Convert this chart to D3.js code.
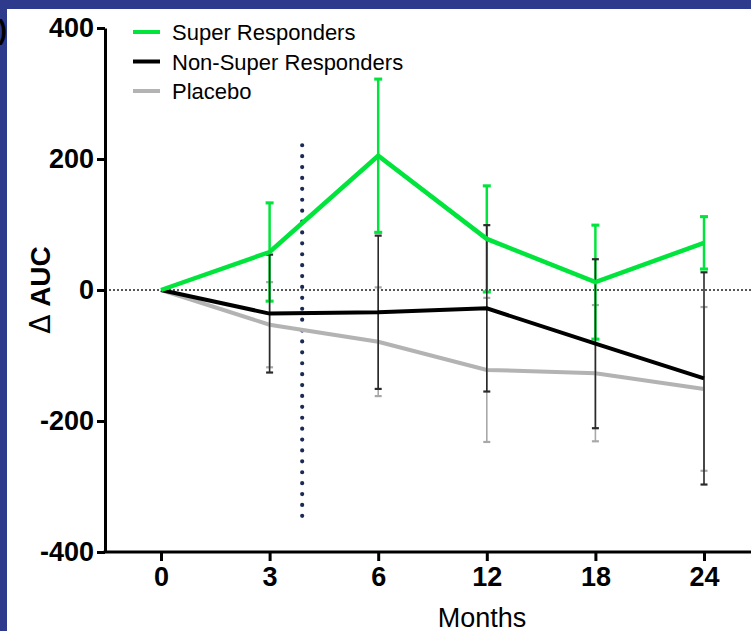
<!DOCTYPE html>
<html>
<head>
<meta charset="utf-8">
<script src="https://cdn.jsdelivr.net/npm/d3@7"></script>
<style>
  html, body { margin: 0; padding: 0; background: #2e3a8c; }
  svg { display: block; }
  text { font-family: "Liberation Sans", Arial, Helvetica, sans-serif; }
</style>
</head>
<body>
<svg id="chart" width="751" height="631"></svg>
<script>
// Visit months (categorical axis)
const months = ["0", "3", "6", "12", "18", "24"];

// Mean change in AUC per group, with error bar half-widths
const superMean    = [0, 58, 205, 78, 12, 72];
const superErr     = [0, 75, 117, 81, 87, 40];
const nonSuperMean = [0, -36, -34, -28, -82, -135];
const nonSuperErr  = [0, 90, 117, 127, 129, 162];
const placeboMean  = [0, -53, -79, -122, -127, -151];
const placeboErr   = [0, 65, 83, 110, 104, 125];

const yTicks = [-400, -200, 0, 200, 400];
const seriesNames = ["Super Responders", "Non-Super Responders", "Placebo"];

// Vertical marker between month 3 and month 6 (fraction of the step), and its value span
const markerFrac = 0.3;
const markerSpan = [-356, 221];

const W = 751, H = 631;
const svg = d3.select("#chart");

// Page background and white panel
svg.append("rect").attr("width", W).attr("height", H).attr("fill", "#2e3a8c");
svg.append("rect").attr("x", 7).attr("y", 9).attr("width", W - 7).attr("height", H - 9).attr("fill", "#ffffff");

const x = d3.scalePoint().domain(months).range([161, 704]);
const y = d3.scaleLinear().domain([-400, 400]).range([552, 28]);
const axisX = 105;

const styles = {
  super:    { line: "#00e43c", lw: 4.5, bar: "#00e43c", bw: 2.5, cap: 8 },
  nonSuper: { line: "#000000", lw: 4,   bar: "#2a2a2a", bw: 1.6, cap: 7 },
  placebo:  { line: "#b3b3b3", lw: 4,   bar: "#a8a8a8", bw: 1.6, cap: 7 }
};

const series = {
  super:    months.map((m, i) => ({ m, v: superMean[i],    e: superErr[i] })),
  nonSuper: months.map((m, i) => ({ m, v: nonSuperMean[i], e: nonSuperErr[i] })),
  placebo:  months.map((m, i) => ({ m, v: placeboMean[i],  e: placeboErr[i] }))
};

// Zero reference line
svg.append("line")
  .attr("x1", axisX).attr("x2", W)
  .attr("y1", y(0)).attr("y2", y(0))
  .attr("stroke", "#222").attr("stroke-width", 1.6)
  .attr("stroke-dasharray", "2 2");

// Vertical dotted marker
const step = x("6") - x("3");
const mx = x("3") + step * markerFrac;
svg.append("line")
  .attr("x1", mx).attr("x2", mx)
  .attr("y1", y(markerSpan[1])).attr("y2", y(markerSpan[0]))
  .attr("stroke", "#1b2a55").attr("stroke-width", 4.2)
  .attr("stroke-linecap", "round")
  .attr("stroke-dasharray", "0 10.9");

function errorBars(key) {
  const s = styles[key];
  const g = svg.append("g");
  const pts = series[key].filter(d => d.e > 0);
  g.selectAll("line.v").data(pts).join("line")
    .attr("x1", d => x(d.m)).attr("x2", d => x(d.m))
    .attr("y1", d => y(d.v + d.e)).attr("y2", d => y(d.v - d.e))
    .attr("stroke", s.bar).attr("stroke-width", s.bw);
  ["+", "-"].forEach(sign => {
    g.selectAll("line.c" + (sign === "+" ? "t" : "b")).data(pts).join("line")
      .attr("x1", d => x(d.m) - s.cap / 2).attr("x2", d => x(d.m) + s.cap / 2)
      .attr("y1", d => y(sign === "+" ? d.v + d.e : d.v - d.e))
      .attr("y2", d => y(sign === "+" ? d.v + d.e : d.v - d.e))
      .attr("stroke", s.bar).attr("stroke-width", s.bw + 0.6);
  });
}

const line = d3.line().x(d => x(d.m)).y(d => y(d.v));
function meanLine(key) {
  const s = styles[key];
  svg.append("path").datum(series[key])
    .attr("d", line).attr("fill", "none")
    .attr("stroke", s.line).attr("stroke-width", s.lw)
    .attr("stroke-linejoin", "miter");
}

errorBars("placebo");
meanLine("placebo");
errorBars("super");
errorBars("nonSuper");
meanLine("nonSuper");
meanLine("super");

// Axes
const yAxis = d3.axisLeft(y).tickValues(yTicks).tickFormat(d => String(d))
  .tickSize(8).tickSizeOuter(0).tickPadding(3);
const gy = svg.append("g").attr("transform", `translate(${axisX},0)`).call(yAxis);
gy.select(".domain").attr("stroke", "#000").attr("stroke-width", 3);
gy.selectAll(".tick line").attr("stroke", "#000").attr("stroke-width", 3);
gy.selectAll(".tick text").attr("fill", "#000")
  .style("font-size", "27px").style("font-weight", "bold")
  .style("font-family", '"Liberation Sans", Arial, sans-serif');

const xAxis = d3.axisBottom(x).tickSize(9).tickSizeOuter(0).tickPadding(6);
const gx = svg.append("g").attr("transform", `translate(0,${y(-400)})`).call(xAxis);
gx.select(".domain").remove();
gx.append("line").attr("x1", axisX - 1.5).attr("x2", W).attr("y1", 0).attr("y2", 0)
  .attr("stroke", "#000").attr("stroke-width", 3);
gx.selectAll(".tick line").attr("stroke", "#000").attr("stroke-width", 3);
gx.selectAll(".tick text").attr("fill", "#000")
  .style("font-size", "27px").style("font-weight", "bold")
  .style("font-family", '"Liberation Sans", Arial, sans-serif');

// Axis titles
svg.append("text")
  .attr("x", 482).attr("y", 627)
  .attr("text-anchor", "middle")
  .style("font-size", "27px").attr("fill", "#000")
  .text("Months");

const yTitle = svg.append("text")
  .attr("transform", `translate(50,${y(0)}) rotate(-90)`)
  .attr("text-anchor", "middle")
  .style("font-size", "28px").style("font-weight", "bold").attr("fill", "#000");
yTitle.append("tspan").style("font-weight", "normal").style("font-family", '"DejaVu Sans", sans-serif').text("Δ");
yTitle.append("tspan").text(" AUC");

// Panel label edge
svg.append("text").attr("x", -2).attr("y", 39)
  .style("font-size", "27px").style("font-weight", "bold").attr("fill", "#000")
  .text(")");

// Legend
const legendKeys = ["super", "nonSuper", "placebo"];
const lg = svg.append("g");
legendKeys.forEach((k, i) => {
  const ly = 32 + i * 29.5;
  lg.append("line").attr("x1", 133).attr("x2", 160).attr("y1", ly).attr("y2", ly)
    .attr("stroke", styles[k].line).attr("stroke-width", 4);
  lg.append("text").attr("x", 172).attr("y", ly + 8)
    .style("font-size", "22px").attr("fill", "#000")
    .text(seriesNames[i]);
});
</script>
</body>
</html>
